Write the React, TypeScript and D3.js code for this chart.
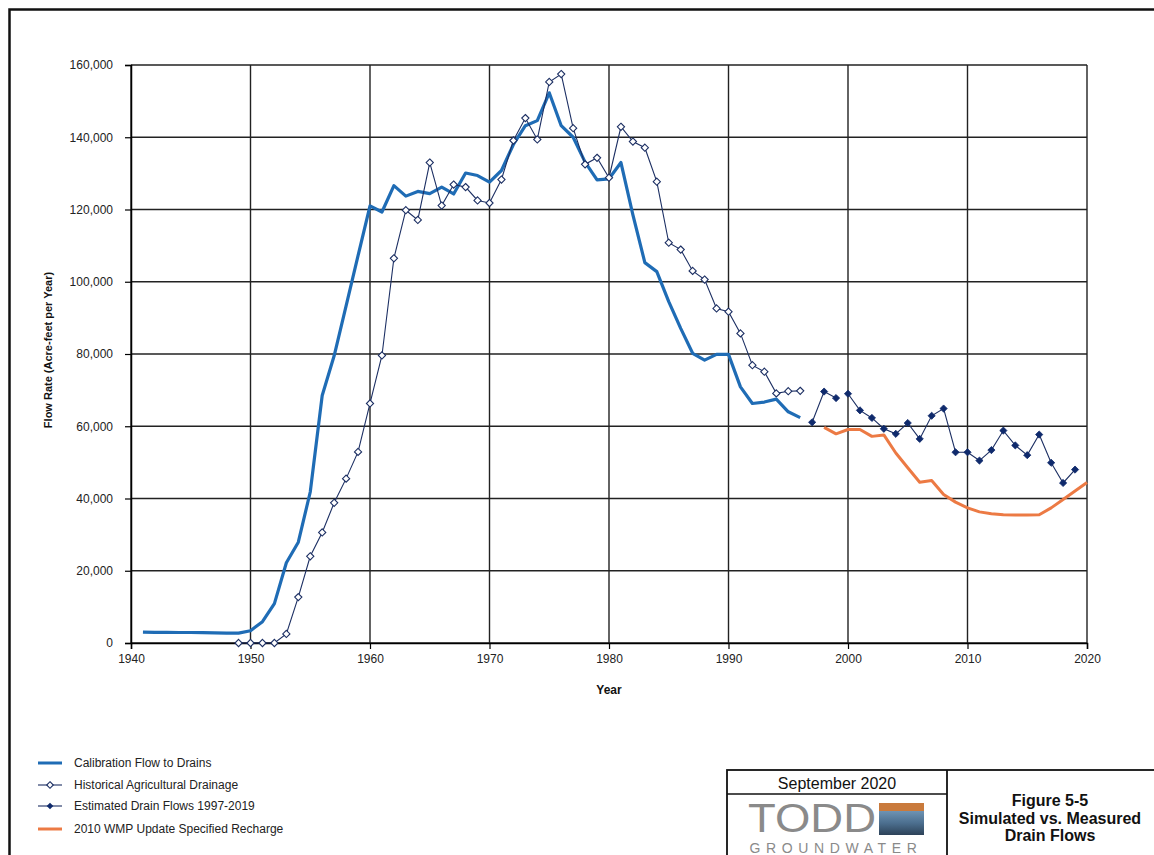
import React, { useRef, useEffect } from 'react';
import * as d3 from 'd3';

// calibration flow to drains, 1941-1996
const calibYears = d3.range(1941, 1997);
const calibFlow = [
  3000, 2950, 2950, 2900, 2900, 2850, 2800, 2750, 2750,
  3400, 5900, 10900, 22200, 27900, 41800, 68500, 79500, 93300, 107200,
  121000, 119300, 126600, 123700, 125000, 124400, 126200, 124300, 130100, 129400,
  127600, 130800, 138000, 143200, 144600, 152300, 143200, 140000, 133100, 128200,
  128500, 133000, 118500, 105300, 102800, 94500, 87100, 80200, 78300, 79900,
  79900, 70900, 66300, 66700, 67500, 64000, 62400,
];

// historical agricultural drainage, 1949-1996
const histYears = d3.range(1949, 1997);
const histFlow = [
  0,
  0, 0, 0, 2500, 12700, 24000, 30600, 38800, 45500, 52900,
  66300, 79600, 106500, 119800, 117100, 133000, 121100, 126900, 126200, 122500,
  121800, 128300, 139100, 145300, 139400, 155300, 157500, 142500, 132500, 134300,
  128800, 142900, 138800, 137100, 127700, 110800, 108900, 103000, 100600, 92600,
  91700, 85700, 76900, 75100, 69100, 69700, 69800,
];

// estimated drain flows 1997-2019
const estYears = d3.range(1997, 2020);
const estFlow = [
  61100, 69600, 67800, 69000, 64400, 62300, 59300, 57900, 60900, 56500,
  62900, 64900, 52800, 52800, 50500, 53400, 58800, 54700, 52000, 57700,
  49900, 44300, 48000,
];

// 2010 WMP update specified recharge, 1998-2020
const wmpYears = d3.range(1998, 2021);
const wmpFlow = [
  59700, 57900, 59100, 59100, 57200, 57600, 52600, 48500, 44500, 45000,
  41100, 39000, 37400, 36300, 35800, 35500, 35400, 35400, 35500, 37400,
  39700, 42100, 44400,
];

const xTicks = [1940, 1950, 1960, 1970, 1980, 1990, 2000, 2010, 2020];
const yTicks = [0, 20000, 40000, 60000, 80000, 100000, 120000, 140000, 160000];

const legendItems = [
  'Calibration Flow to Drains',
  'Historical Agricultural Drainage',
  'Estimated Drain Flows 1997-2019',
  '2010 WMP Update Specified Recharge',
];

const FONT = 'Liberation Sans, Arial, Helvetica, sans-serif';
const BLUE = '#1f6cb5';
const NAVY = '#1c2f63';
const DARK = '#0f2a6c';
const ORANGE = '#ec7a44';

const diamond = (r) => `M0,${-r}L${r},0L0,${r}L${-r},0Z`;

export default function App() {
  const xAxisRef = useRef(null);
  const yAxisRef = useRef(null);

  const x = d3.scaleLinear().domain([1940, 2020]).range([131, 1087]);
  const y = d3.scaleLinear().domain([0, 160000]).range([643, 65]);

  useEffect(() => {
    const xa = d3.select(xAxisRef.current);
    xa.call(d3.axisBottom(x).tickValues(xTicks).tickFormat(d3.format('d')).tickSize(6).tickPadding(5));
    xa.selectAll('path').attr('stroke', '#000').attr('stroke-width', 1.5);
    xa.selectAll('line').attr('stroke', '#000').attr('stroke-width', 1.2);
    xa.selectAll('text').attr('font-family', FONT).attr('font-size', 12).attr('fill', '#222');

    const ya = d3.select(yAxisRef.current);
    ya.call(d3.axisLeft(y).tickValues(yTicks).tickFormat(d3.format(',')).tickSize(6).tickPadding(12));
    ya.selectAll('path').attr('stroke', '#000').attr('stroke-width', 1.5);
    ya.selectAll('line').attr('stroke', '#000').attr('stroke-width', 1.2);
    ya.selectAll('text').attr('font-family', FONT).attr('font-size', 12).attr('fill', '#222');
  }, []);

  const line = d3.line().x((d) => x(d[0])).y((d) => y(d[1]));
  const calib = calibYears.map((yr, i) => [yr, calibFlow[i]]);
  const hist = histYears.map((yr, i) => [yr, histFlow[i]]);
  const est = estYears.map((yr, i) => [yr, estFlow[i]]);
  const wmp = wmpYears.map((yr, i) => [yr, wmpFlow[i]]);

  const legendY = [763, 785, 806, 829];

  return (
    <svg width={1154} height={855} style={{ position: 'absolute', left: 0, top: 0, background: '#fff' }}>
      <rect x={0} y={0} width={1154} height={855} fill="#fff" />
      {/* outer frame */}
      <rect x={9.5} y={9.5} width={1160} height={860} fill="none" stroke="#111" strokeWidth={2.5} />

      {/* grid */}
      <g>
        {yTicks.map((t) => (
          <line key={'gy' + t} x1={x(1940)} x2={x(2020)} y1={y(t)} y2={y(t)} stroke="#222" strokeWidth={1.4} />
        ))}
        {xTicks.map((t) => (
          <line key={'gx' + t} x1={x(t)} x2={x(t)} y1={y(0)} y2={y(160000)} stroke="#222" strokeWidth={1.4} />
        ))}
      </g>

      <g ref={xAxisRef} transform={`translate(0,${y(0)})`} />
      <g ref={yAxisRef} transform={`translate(${x(1940)},0)`} />

      {/* series */}
      <path d={line(calib)} fill="none" stroke={BLUE} strokeWidth={3.2} strokeLinejoin="round" />
      <path d={line(hist)} fill="none" stroke={NAVY} strokeWidth={1.1} />
      {hist.map((d, i) => (
        <path key={'h' + i} d={diamond(3.6)} transform={`translate(${x(d[0])},${y(d[1])})`} fill="#fff" stroke={NAVY} strokeWidth={1.1} />
      ))}
      <path d={line(wmp)} fill="none" stroke={ORANGE} strokeWidth={3} strokeLinejoin="round" />
      <path d={line(est.slice(0, 3))} fill="none" stroke={NAVY} strokeWidth={1.1} />
      <path d={line(est.slice(3))} fill="none" stroke={NAVY} strokeWidth={1.1} />
      {est.map((d, i) => (
        <path key={'e' + i} d={diamond(3.6)} transform={`translate(${x(d[0])},${y(d[1])})`} fill={DARK} stroke={DARK} strokeWidth={0.8} />
      ))}

      {/* axis titles */}
      <text x={609} y={694} textAnchor="middle" fontFamily={FONT} fontWeight="bold" fontSize={12} fill="#111">Year</text>
      <text transform="translate(52,350) rotate(-90)" textAnchor="middle" fontFamily={FONT} fontWeight="bold" fontSize={11} fill="#111">
        Flow Rate (Acre-feet per Year)
      </text>

      {/* legend */}
      <g>
        <line x1={38} x2={62} y1={legendY[0]} y2={legendY[0]} stroke={BLUE} strokeWidth={3} />
        <line x1={38} x2={62} y1={legendY[1]} y2={legendY[1]} stroke={NAVY} strokeWidth={1.1} />
        <path d={diamond(3.3)} transform={`translate(50,${legendY[1]})`} fill="#fff" stroke={NAVY} strokeWidth={1.1} />
        <line x1={38} x2={62} y1={legendY[2]} y2={legendY[2]} stroke={NAVY} strokeWidth={1.1} />
        <path d={diamond(3.3)} transform={`translate(50,${legendY[2]})`} fill={DARK} />
        <line x1={38} x2={62} y1={legendY[3]} y2={legendY[3]} stroke={ORANGE} strokeWidth={3} />
        {legendItems.map((t, i) => (
          <text key={t} x={74} y={legendY[i] + 4} fontFamily={FONT} fontSize={12} fill="#222">{t}</text>
        ))}
      </g>

      {/* title block */}
      <g>
        <rect x={727} y={770} width={440} height={100} fill="none" stroke="#111" strokeWidth={1.8} />
        <line x1={947} x2={947} y1={770} y2={870} stroke="#111" strokeWidth={1.8} />
        <line x1={727} x2={947} y1={794} y2={794} stroke="#111" strokeWidth={1.5} />
        <text x={837} y={789} textAnchor="middle" fontFamily={FONT} fontSize={16} fill="#111">September 2020</text>
        <text x={748} y={832} fontFamily={FONT} fontSize={40} textLength={128} lengthAdjust="spacingAndGlyphs" fill="#8a8a8a">TODD</text>
        <defs>
          <linearGradient id="logoGrad" x1="0" y1="0" x2="0" y2="1">
            <stop offset="0" stopColor="#6e93b3" />
            <stop offset="0.5" stopColor="#4c6f8f" />
            <stop offset="1" stopColor="#2d4258" />
          </linearGradient>
        </defs>
        <rect x={879} y={803} width={45} height={8} fill="#c97a3c" />
        <rect x={879} y={811} width={45} height={24} fill="url(#logoGrad)" />
        <text x={836} y={853} textAnchor="middle" fontFamily={FONT} fontSize={14} letterSpacing={5.6} fill="#8a8a8a">GROUNDWATER</text>
        <text x={1050} y={806} textAnchor="middle" fontFamily={FONT} fontWeight="bold" fontSize={16} fill="#111">Figure 5-5</text>
        <text x={1050} y={824} textAnchor="middle" fontFamily={FONT} fontWeight="bold" fontSize={16} fill="#111">Simulated vs. Measured</text>
        <text x={1050} y={841} textAnchor="middle" fontFamily={FONT} fontWeight="bold" fontSize={16} fill="#111">Drain Flows</text>
      </g>
    </svg>
  );
}
